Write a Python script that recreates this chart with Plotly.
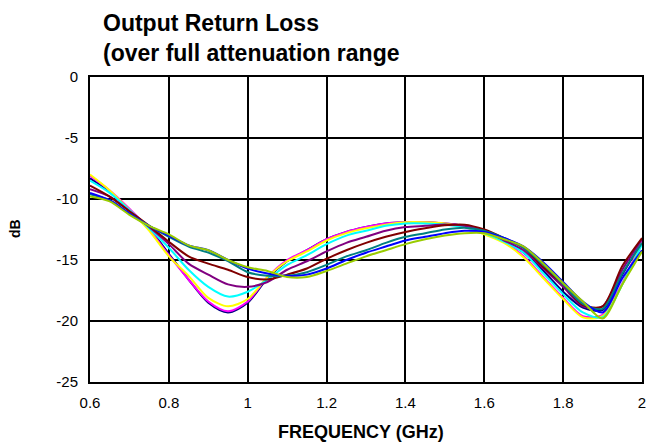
import plotly.graph_objects as go

freq = [0.6, 0.65, 0.7, 0.75, 0.8, 0.85, 0.9, 0.95, 1.0, 1.05, 1.1, 1.15, 1.2, 1.25,
        1.3, 1.35, 1.4, 1.45, 1.5, 1.55, 1.6, 1.65, 1.7, 1.75, 1.8, 1.85, 1.9, 1.95, 2.0]

navy = [-8.3, -9.4, -10.9, -12.4, -14.5, -16.6, -18.5, -19.3, -18.5, -16.5, -15.1, -14.2, -13.3, -12.7,
        -12.3, -12.0, -11.9, -11.9, -12.0, -12.2, -12.6, -13.3, -14.4, -15.9, -17.6, -18.9, -19.1, -16.2, -13.5]
magenta = [-8.1, -9.3, -10.8, -12.5, -14.6, -16.6, -18.4, -19.2, -18.4, -16.4, -15.0, -14.2, -13.3, -12.7,
           -12.3, -12.0, -11.9, -11.9, -12.0, -12.2, -12.8, -13.5, -14.7, -16.4, -18.1, -19.6, -19.5, -16.9, -13.4]
yellow = [-8.0, -9.3, -10.9, -12.6, -14.7, -16.3, -18.1, -18.8, -18.2, -16.4, -15.1, -14.3, -13.4, -12.8,
          -12.4, -12.1, -11.9, -11.9, -12.0, -12.3, -12.9, -13.6, -14.8, -16.5, -18.2, -19.7, -19.6, -17.0, -13.6]
cyan = [-8.5, -9.5, -10.9, -12.4, -14.0, -15.8, -17.2, -18.0, -17.6, -16.6, -15.4, -14.6, -13.7, -13.0,
        -12.6, -12.2, -12.0, -12.0, -12.1, -12.3, -12.8, -13.5, -14.4, -16.1, -17.8, -19.3, -19.7, -17.0, -13.7]
purple = [-9.2, -9.8, -11.0, -12.3, -13.7, -15.3, -16.2, -17.0, -17.2, -16.8, -15.8, -15.1, -14.3, -13.6,
          -13.1, -12.6, -12.3, -12.2, -12.1, -12.2, -12.6, -13.4, -14.2, -15.7, -17.2, -18.8, -18.8, -15.8, -13.3]
maroon = [-8.9, -9.8, -11.0, -12.2, -13.5, -14.7, -15.3, -15.8, -16.4, -16.6, -16.2, -15.7, -14.9, -14.2,
          -13.6, -13.1, -12.7, -12.4, -12.15, -12.1, -12.5, -13.2, -14.0, -15.6, -17.0, -18.7, -18.8, -15.5, -13.2]
teal = [-9.6, -10.1, -11.2, -12.2, -13.1, -13.9, -14.4, -15.1, -16.0, -16.3, -16.3, -16.0, -15.4, -14.7,
        -14.2, -13.6, -13.1, -12.8, -12.5, -12.35, -12.6, -13.2, -14.0, -15.4, -17.0, -18.6, -19.0, -16.1, -13.6]
blue = [-9.5, -10.1, -11.2, -12.2, -13.0, -13.8, -14.2, -15.0, -15.7, -16.1, -16.3, -16.2, -15.7, -15.0,
        -14.4, -13.9, -13.4, -13.1, -12.8, -12.6, -12.7, -13.2, -13.9, -15.2, -16.8, -18.4, -19.3, -16.5, -14.2]
green = [-9.8, -10.2, -11.3, -12.2, -12.9, -13.8, -14.2, -15.0, -15.6, -15.9, -16.4, -16.4, -15.9, -15.3,
         -14.7, -14.2, -13.7, -13.3, -13.0, -12.8, -12.8, -13.3, -13.9, -15.3, -16.9, -18.4, -19.8, -17.0, -14.3]

series = [
    ("navy", navy, "#000080"),
    ("magenta", magenta, "#FF00FF"),
    ("yellow", yellow, "#FFFF00"),
    ("cyan", cyan, "#00FFFF"),
    ("purple", purple, "#800080"),
    ("maroon", maroon, "#800000"),
    ("teal", teal, "#008080"),
    ("blue", blue, "#0000FF"),
    ("green", green, "#99CC00"),
]

x_ticks = [0.6, 0.8, 1.0, 1.2, 1.4, 1.6, 1.8, 2.0]
x_tick_text = ["0.6", "0.8", "1", "1.2", "1.4", "1.6", "1.8", "2"]
y_ticks = [0, -5, -10, -15, -20, -25]
y_tick_text = ["0", "-5", "-10", "-15", "-20", "-25"]

FONT = "Arial, Liberation Sans, sans-serif"
L, R, T, B = 90, 642, 77, 382
W, H = 647, 443

fig = go.Figure()
for name, vals, col in series:
    fig.add_trace(go.Scatter(x=freq, y=vals, mode="lines", name=name,
                             line=dict(color=col, width=2, shape="spline", smoothing=0.8),
                             showlegend=False))

fig.update_layout(
    width=W, height=H,
    margin=dict(l=L, r=W - R, t=T, b=H - B, autoexpand=False),
    paper_bgcolor="white", plot_bgcolor="white",
    font=dict(family=FONT, size=15, color="black"),
    title=dict(text="<b>Output Return Loss<br>(over full attenuation range</b>",
               xref="container", yref="container", x=103 / W, xanchor="left",
               y=1 - 31 / H, yanchor="top", automargin=False,
               font=dict(family=FONT, size=23, color="black")),
)
fig.update_xaxes(range=[0.6, 2.0], tickvals=x_ticks, ticktext=x_tick_text,
                 showgrid=True, gridcolor="black", gridwidth=2,
                 showline=True, linecolor="black", linewidth=2, mirror=True,
                 ticks="", ticklabelstandoff=6, zeroline=False, automargin=False,
                 tickfont=dict(family=FONT, size=15))
fig.update_yaxes(range=[-25, 0], tickvals=y_ticks, ticktext=y_tick_text,
                 showgrid=True, gridcolor="black", gridwidth=2,
                 showline=True, linecolor="black", linewidth=2, mirror=True,
                 ticks="", ticklabelstandoff=7, zeroline=False, automargin=False,
                 tickfont=dict(family=FONT, size=15))

fig.add_annotation(text="<b>FREQUENCY (GHz)</b>", xref="paper", yref="paper",
                   x=(361 - L) / (R - L), y=(B - 432) / (B - T), xanchor="center", yanchor="middle",
                   showarrow=False, font=dict(family=FONT, size=18, color="black"))
fig.add_annotation(text="<b>dB</b>", xref="paper", yref="paper",
                   x=(15 - L) / (R - L), y=(B - 229) / (B - T), xanchor="center", yanchor="middle",
                   textangle=-90, showarrow=False,
                   font=dict(family=FONT, size=14, color="black"))

fig.write_html("out.html", config={"displayModeBar": False},
               post_script="document.body.style.margin='0';document.body.style.overflow='hidden';")
